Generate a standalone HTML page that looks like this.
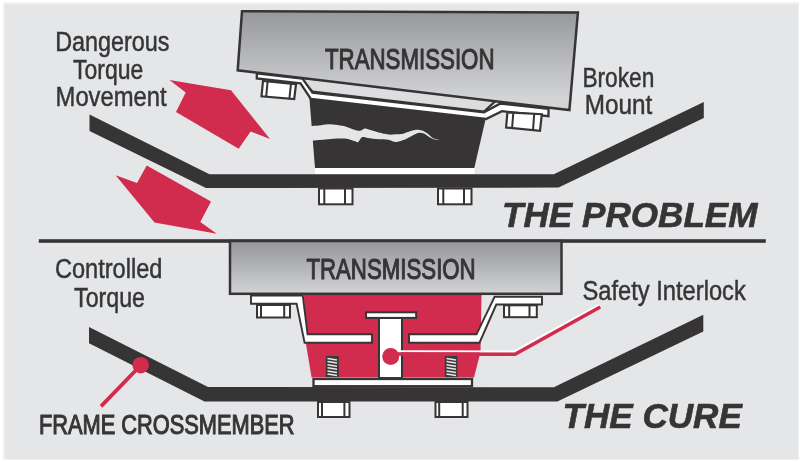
<!DOCTYPE html>
<html><head><meta charset="utf-8">
<style>
html,body{margin:0;padding:0;background:#fff;width:800px;height:462px;overflow:hidden}
svg{display:block;will-change:transform}
text{font-family:"Liberation Sans",sans-serif}
</style></head>
<body>
<svg width="800" height="462" viewBox="0 0 800 462">
<defs>
<linearGradient id="g1" gradientUnits="userSpaceOnUse" x1="0" y1="12" x2="0" y2="98">
<stop offset="0" stop-color="#97989b"/><stop offset="1" stop-color="#d3d4d6"/>
</linearGradient>
<linearGradient id="g2" gradientUnits="userSpaceOnUse" x1="0" y1="243" x2="0" y2="292">
<stop offset="0" stop-color="#97989c"/><stop offset="1" stop-color="#d0d1d3"/>
</linearGradient>
</defs>
<rect x="0" y="0" width="800" height="462" fill="#fff"/>
<rect x="3" y="2.5" width="796" height="457.2" fill="#eeeff0"/>
<rect x="5" y="4.5" width="793.2" height="454.8" fill="#e5e6e8"/>

<!-- ============ TOP: PROBLEM ============ -->
<!-- red arrows -->
<polygon fill="#d12c4d" points="169.5,80 231,90.3 270,139 250.6,131.4 238.7,148.7 176,112 185.7,92.5"/>
<polygon fill="#d12c4d" points="115.6,175.3 137,183.1 146.7,165.6 211,201.6 200.3,222 216.8,233.7 154.5,222.5"/>

<!-- frame bar -->
<polygon fill="#373435" points="89.5,114.5 209.5,174.3 553.8,174.2 703.8,101.9 703.8,118.1 558.6,187.6 206,188 89.5,131"/>

<!-- dark mount block -->
<polygon fill="#373435" points="309,93 487,113 474.3,168 315,168"/>
<!-- crack -->
<path fill="#e5e6e8" d="M306.0,126.1 C306.7,126.1 308.2,126.2 310.3,126.1 C312.4,126.0 315.8,125.8 318.8,125.5 C321.8,125.2 325.0,124.3 328.1,124.2 C331.2,124.1 334.4,124.6 337.5,125.1 C340.6,125.6 344.1,126.2 346.9,127.0 C349.7,127.8 352.2,129.2 354.4,129.8 C356.6,130.4 358.3,131.0 360.0,130.8 C361.7,130.6 363.1,128.7 364.7,128.5 C366.3,128.3 367.0,129.1 369.4,129.8 C371.8,130.5 375.7,131.8 378.8,132.6 C381.9,133.4 385.7,134.2 388.2,134.5 C390.7,134.8 391.6,134.6 393.8,134.5 C396.0,134.4 398.8,134.6 401.3,134.1 C403.8,133.6 406.3,132.4 408.8,131.7 C411.3,131.0 414.1,130.0 416.3,129.8 C418.5,129.6 420.1,129.8 422.0,130.4 C423.9,131.0 425.7,132.3 427.6,133.6 C429.5,134.9 431.1,137.2 433.2,138.3 C435.3,139.4 439.3,140.0 440.5,140.3 L435.1,139.8 C434.2,139.4 431.4,138.3 429.5,137.3 C427.6,136.3 425.7,134.3 423.8,133.6 C421.9,132.9 420.4,132.5 418.2,133.0 C416.0,133.5 413.2,135.2 410.7,136.4 C408.2,137.6 405.7,139.2 403.2,140.1 C400.7,141.0 398.2,142.1 395.7,142.0 C393.2,141.9 391.0,140.3 388.2,139.8 C385.4,139.3 382.2,139.5 378.8,139.2 C375.4,138.9 370.3,138.2 367.5,137.9 C364.7,137.6 363.4,136.6 361.9,137.3 C360.3,138.0 359.4,141.4 358.2,142.0 C356.9,142.6 356.0,141.6 354.4,141.1 C352.8,140.6 351.3,139.6 348.8,139.2 C346.3,138.8 342.8,138.6 339.4,138.6 C335.9,138.6 331.5,138.9 328.1,139.2 C324.7,139.4 321.8,139.8 318.8,140.1 C315.8,140.4 312.4,140.9 310.3,141.1 C308.2,141.3 306.7,141.1 306.0,141.1 Z"/>
<!-- base plate -->
<rect x="315" y="168" width="159.5" height="6" fill="#fff"/>

<!-- light strip between transmission and bracket -->
<polygon fill="#dcdddf" stroke="#373435" stroke-width="2.2" points="299,77.5 496,100.5 484,111.5 312.5,91.5"/>
<!-- bracket -->
<polygon fill="#fff" stroke="#373435" stroke-width="2.3" stroke-linejoin="miter" points="256.8,73.3 302.5,78.6 312.5,92.6 484,112.2 500.5,103.5 548.5,108.8 548.5,116.2 502,111.2 486,119 310.8,98.8 300.5,83.4 256.8,78.4"/>

<!-- transmission -->
<polygon fill="url(#g1)" stroke="#373435" stroke-width="2.5" stroke-linejoin="miter" points="242,11.2 577.9,12.5 569.4,110 237.7,70.3"/>
<text x="325" y="68.7" font-size="30" fill="#373435" stroke="#373435" stroke-width="1.1" textLength="169.5" lengthAdjust="spacingAndGlyphs">TRANSMISSION</text>

<!-- bolts top -->
<g stroke="#373435" stroke-width="2" fill="#fff">
<polygon points="263,81 296,84.2 294.2,99 261.5,96.3" stroke-width="2.2"/>
<line x1="267.6" y1="81.4" x2="266.2" y2="96.7"/><line x1="291" y1="83.8" x2="289.4" y2="98.6"/>
<polygon points="507.4,112.3 541.8,114.2 540,130.9 506.1,127.5" stroke-width="2.2"/>
<line x1="513.3" y1="112.6" x2="512.1" y2="127.9"/><line x1="534.2" y1="113.8" x2="533" y2="130.2"/>
<rect x="319" y="188.5" width="33.5" height="15.8"/>
<line x1="324.3" y1="188.5" x2="324.3" y2="204.3"/><line x1="345" y1="188.5" x2="345" y2="204.3"/>
<rect x="438" y="188.5" width="33.5" height="15.8"/>
<line x1="443.3" y1="188.5" x2="443.3" y2="204.3"/><line x1="464" y1="188.5" x2="464" y2="204.3"/>
</g>

<!-- divider -->
<rect x="38.8" y="239.2" width="727" height="3.6" fill="#373435"/>

<!-- ============ BOTTOM: CURE ============ -->
<!-- frame bar -->
<polygon fill="#373435" points="89,327.1 208,387 553.8,387.3 703.3,314.8 703.3,331.4 557.4,401.5 204.5,401.5 89,343.3"/>

<!-- red block -->
<polygon fill="#d12c4d" points="304,295 481.5,295 480.5,352 474,377.5 311.6,377.5 305.3,340"/>

<!-- base plate -->
<rect x="313.5" y="379" width="158.5" height="7.2" fill="#fff" stroke="#373435" stroke-width="2.3"/>

<!-- springs -->
<g>
<rect x="325.8" y="356" width="13" height="21" fill="#3a3a3b"/>
<path d="M327.5,358.5 L337,360 M327.5,361.6 L337,363.1 M327.5,364.7 L337,366.2 M327.5,367.8 L337,369.3 M327.5,370.9 L337,372.4 M327.5,374 L337,375.5" stroke="#e8e8e8" stroke-width="1.5"/>
<rect x="444.8" y="356" width="12.6" height="21" fill="#3a3a3b"/>
<path d="M446.5,358.5 L456,360 M446.5,361.6 L456,363.1 M446.5,364.7 L456,366.2 M446.5,367.8 L456,369.3 M446.5,370.9 L456,372.4 M446.5,374 L456,375.5" stroke="#e8e8e8" stroke-width="1.5"/>
</g>

<!-- interlock T -->
<rect x="379" y="318" width="23" height="60" fill="#fff" stroke="#373435" stroke-width="2"/>
<rect x="366" y="312.3" width="50.2" height="5.6" fill="#fff" stroke="#373435" stroke-width="2"/>

<!-- bracket lower -->
<polygon fill="#fff" stroke="#373435" stroke-width="1.9" stroke-linejoin="miter" points="251,295.6 302.8,295.6 307.6,334.3 372,334.3 372,342.7 304.6,342.7 296.6,303.7 251,303.7"/>
<polygon fill="#fff" stroke="#373435" stroke-width="1.9" stroke-linejoin="miter" points="409,334.3 476.5,334.3 494.6,296.8 542,296.8 542,304.5 496.3,304.5 479.5,342.7 409,342.7"/>

<!-- transmission lower -->
<rect x="230" y="241" width="331.5" height="52.8" fill="url(#g2)" stroke="#373435" stroke-width="2.5"/>
<text x="306.4" y="279" font-size="29.5" fill="#373435" stroke="#373435" stroke-width="1.1" textLength="169.3" lengthAdjust="spacingAndGlyphs">TRANSMISSION</text>

<!-- bolts lower -->
<g stroke="#373435" stroke-width="2" fill="#fff">
<rect x="257" y="305" width="33" height="12.5"/>
<line x1="261" y1="305" x2="261" y2="317.5"/><line x1="284.2" y1="305" x2="284.2" y2="317.5"/>
<rect x="504" y="305.3" width="32.8" height="11.9"/>
<line x1="509.2" y1="305.3" x2="509.2" y2="317.2"/><line x1="529.5" y1="305.3" x2="529.5" y2="317.2"/>
<rect x="318" y="402" width="31.5" height="15"/>
<line x1="322" y1="402" x2="322" y2="417"/><line x1="344.4" y1="402" x2="344.4" y2="417"/>
<rect x="435.5" y="402" width="32" height="15"/>
<line x1="439.2" y1="402" x2="439.2" y2="417"/><line x1="462.7" y1="402" x2="462.7" y2="417"/>
</g>

<!-- safety interlock leader -->
<polyline fill="none" stroke="#fff" stroke-width="2" points="392,351.2 514,351.5 599,304.8"/>
<polyline fill="none" stroke="#d12c4d" stroke-width="3.6" points="390.7,354 515,354.2 600.2,307"/>
<circle cx="390.7" cy="356.5" r="8.5" fill="#d12c4d"/>

<!-- frame crossmember dot -->
<line x1="140.7" y1="365.2" x2="101" y2="406.4" stroke="#d12c4d" stroke-width="3.8"/>
<circle cx="140.7" cy="365.2" r="8.3" fill="#d12c4d"/>

<!-- ============ TEXT ============ -->
<g fill="#363637" font-size="28.4" stroke="#363637" stroke-width="0.5">
<text x="55.2" y="51.3" textLength="114.3" lengthAdjust="spacingAndGlyphs">Dangerous</text>
<text x="73" y="78.5" textLength="70.2" lengthAdjust="spacingAndGlyphs">Torque</text>
<text x="55.6" y="105.8" textLength="111" lengthAdjust="spacingAndGlyphs">Movement</text>
<text x="582.4" y="86.6" textLength="72" lengthAdjust="spacingAndGlyphs">Broken</text>
<text x="584.8" y="114" textLength="67.5" lengthAdjust="spacingAndGlyphs">Mount</text>
<text x="54.9" y="278" textLength="107.6" lengthAdjust="spacingAndGlyphs">Controlled</text>
<text x="74.1" y="306.9" textLength="70.9" lengthAdjust="spacingAndGlyphs">Torque</text>
<text x="582.4" y="299.7" textLength="163.4" lengthAdjust="spacingAndGlyphs">Safety Interlock</text>
</g>
<text x="39" y="434" font-size="27" fill="#363637" stroke="#363637" stroke-width="1.1" textLength="255.5" lengthAdjust="spacingAndGlyphs">FRAME CROSSMEMBER</text>
<text x="502" y="226.75" font-size="35.6" font-weight="bold" font-style="italic" fill="#373435" stroke="#373435" stroke-width="0.6" textLength="255.5" lengthAdjust="spacingAndGlyphs">THE PROBLEM</text>
<text x="562.5" y="427.7" font-size="35.6" font-weight="bold" font-style="italic" fill="#373435" stroke="#373435" stroke-width="0.6" textLength="179.3" lengthAdjust="spacingAndGlyphs">THE CURE</text>
</svg>
</body></html>
